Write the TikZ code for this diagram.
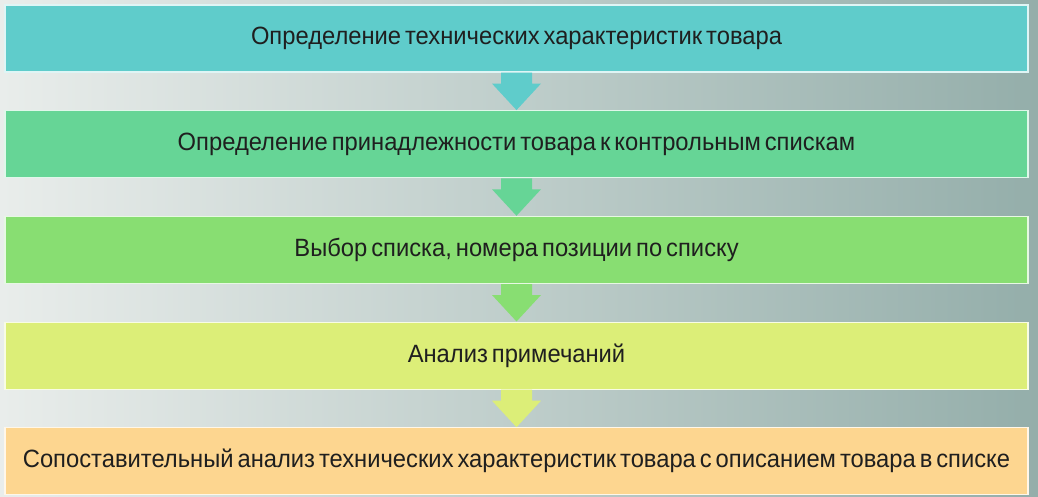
\documentclass[tikz,border=0pt]{standalone}
\usepackage{fontspec}
\setmainfont{Liberation Sans}[FakeStretch=0.95, WordSpace=0.6]
\usetikzlibrary{calc,positioning}

\definecolor{bgleft}{HTML}{E9EDEB}
\definecolor{bgmid}{HTML}{D0DAD8}
\definecolor{bgright}{HTML}{94AEAA}
\definecolor{stepone}{HTML}{5FCCCB}
\definecolor{steptwo}{HTML}{66D596}
\definecolor{stepthree}{HTML}{88DE72}
\definecolor{stepfour}{HTML}{DCEE78}
\definecolor{stepfive}{HTML}{FDD690}

% Pfeil zwischen zwei Kästen
\newcommand{\flowarrow}[3]{%
  \fill[#3] ($ (#1.south) + (-15.5,0) $) -- ($ (#1.south) + (-15.5,-11) $)
    -- ($ (#1.south) + (-24.5,-11) $) -- (#2.north)
    -- ($ (#1.south) + (24.5,-11) $) -- ($ (#1.south) + (15.5,-11) $)
    -- ($ (#1.south) + (15.5,0) $) -- cycle;}

\begin{document}
\begin{tikzpicture}[
    x=1pt, y=1pt,
    node distance = 37.5pt,
    stepbox/.style = {draw=white!80!#1, line width=1.2pt, fill=#1,
                      minimum width=1023pt, minimum height=67pt,
                      inner sep=0pt, text=black!88,
                      font=\fontsize{25}{29}\selectfont},
  ]

	% Hintergrund
	\shade[left color=bgleft, middle color=bgmid, right color=bgright]
	    (0,0) rectangle (1038,496);
	\useasboundingbox (0,0) rectangle (1038,496);

	% Kästen
	\node (S1) at (516.5,457.5) [stepbox=stepone]
	    {Определение технических характеристик товара};
	\node (S2) [stepbox=steptwo, below=of S1]
	    {Определение принадлежности товара к контрольным спискам};
	\node (S3) [stepbox=stepthree, below=of S2]
	    {Выбор списка, номера позиции по списку};
	\node (S4) [stepbox=stepfour, below=of S3]
	    {Анализ примечаний};
	\node (S5) [stepbox=stepfive, below=of S4]
	    {Сопоставительный анализ технических характеристик товара с описанием товара в списке};

	% Pfeile
	\flowarrow{S1}{S2}{stepone}
	\flowarrow{S2}{S3}{steptwo}
	\flowarrow{S3}{S4}{stepthree}
	\flowarrow{S4}{S5}{stepfour}

\end{tikzpicture}
\end{document}
